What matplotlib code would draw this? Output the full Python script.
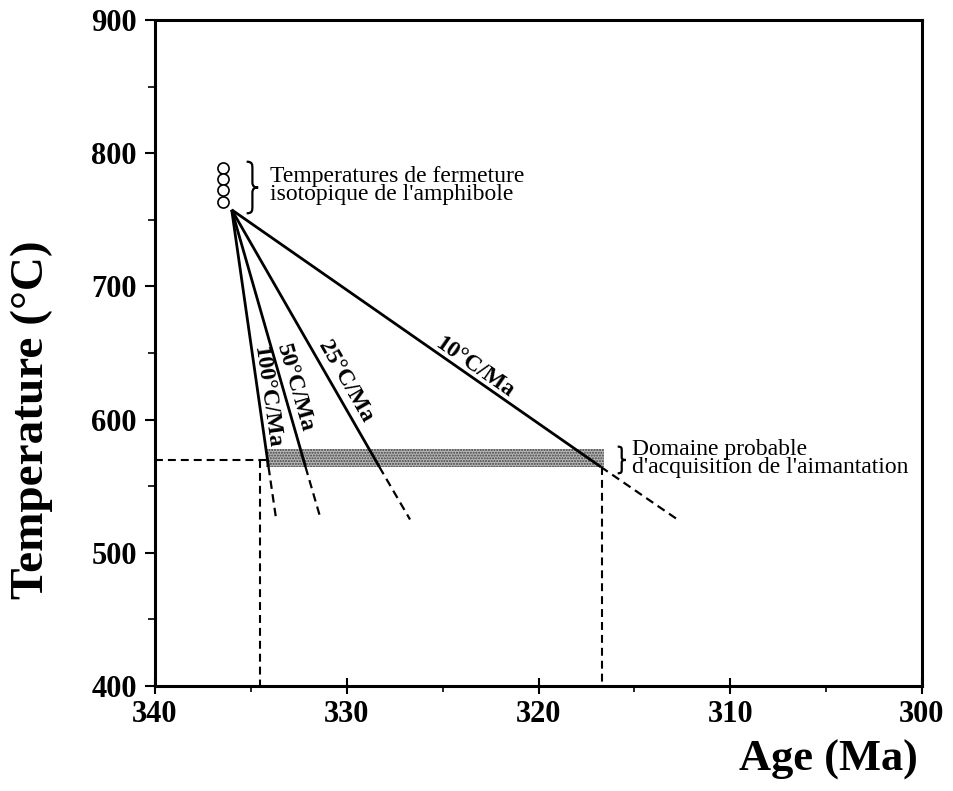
import numpy as np
import matplotlib
matplotlib.use("Agg")
import matplotlib.pyplot as plt
from matplotlib.path import Path
from matplotlib.patches import PathPatch

# ---------------- data ----------------
rate_labels = ["100°C/Ma", "50°C/Ma", "25°C/Ma", "10°C/Ma"]
start_age = 336.0          # Ma, apex of cooling paths
start_temp = 757.5         # °C
solid_end_temp = 564.5     # °C
dash_end_temp = 525.0      # °C
solid_end_age = [334.08, 332.15, 328.3, 316.75]
dash_end_age = [333.68, 331.35, 326.7, 312.75]

closure_age = [336.47, 336.47, 336.47, 336.47]
closure_temp = [788.8, 780.6, 772.5, 763.7]

band_age = [334.2, 316.6]
band_temp_low = 564.4
band_temp_high = 577.9
ref_temp = 570.0
ref_age_left = 334.5
ref_age_right = 316.7

xticks = [340, 330, 320, 310, 300]
yticks = [400, 500, 600, 700, 800, 900]

# label placement (centre of rotated labels)
label_age = [334.16, 332.7, 330.09, 323.36]
label_temp = [617.0, 623.7, 628.2, 639.5]

# ---------------- figure ----------------
W, H = 954, 791
fig = plt.figure(figsize=(W / 100, H / 100), dpi=100)
ax = fig.add_axes([155 / W, 105 / H, 767 / W, 666 / H])
ax.set_xlim(340, 300)
ax.set_ylim(400, 900)

serif = ["Liberation Serif", "DejaVu Serif"]

# band
ax.fill_between(band_age, band_temp_low, band_temp_high, facecolor="#b8b8b8",
                edgecolor="#404040", linewidth=0, hatch="......", zorder=1)

# dashed reference lines
dash = (0, (3.8, 2.4))
ax.plot([340, band_age[0]], [ref_temp, ref_temp], color="k", lw=1.5, ls=dash, zorder=2)
ax.plot([ref_age_left, ref_age_left], [ref_temp, 400], color="k", lw=1.5, ls=dash, zorder=2)
ax.plot([ref_age_right, ref_age_right], [solid_end_temp, 400], color="k", lw=1.5, ls=dash, zorder=2)

# cooling paths
for i in range(len(rate_labels)):
    ax.plot([start_age, solid_end_age[i]], [start_temp, solid_end_temp],
            color="k", lw=2.0, solid_capstyle="butt", zorder=3)
    ax.plot([solid_end_age[i], dash_end_age[i]], [solid_end_temp, dash_end_temp],
            color="k", lw=1.6, ls=dash, zorder=3)
    p1 = ax.transData.transform((start_age, start_temp))
    p2 = ax.transData.transform((solid_end_age[i], solid_end_temp))
    ang = np.degrees(np.arctan2(p2[1] - p1[1], p2[0] - p1[0]))
    ax.text(label_age[i], label_temp[i], rate_labels[i], rotation=ang,
            rotation_mode="anchor", ha="center", va="center",
            fontsize=17, fontweight="bold", family=serif, zorder=4)

# closure temperature circles
ax.plot(closure_age, closure_temp, ls="none", marker="o", ms=8,
        mfc="white", mec="k", mew=1.2, zorder=5, clip_on=False)


def brace(x_stem, x_tip, y_top, y_bot, hook):
    """Draw a '}'-shaped brace in data coordinates."""
    u = np.array([[0, 1], [0.5, 1], [0.5, 0.95], [0.5, 0.85],
                  [0.5, 0.6], [0.5, 0.52], [0.7, 0.5], [1, 0.5],
                  [0.7, 0.5], [0.5, 0.48], [0.5, 0.4],
                  [0.5, 0.15], [0.5, 0.05], [0.5, 0], [0, 0]], float)
    codes = [Path.MOVETO, Path.CURVE4, Path.CURVE4, Path.CURVE4,
             Path.LINETO, Path.CURVE4, Path.CURVE4, Path.CURVE4,
             Path.CURVE4, Path.CURVE4, Path.CURVE4,
             Path.LINETO, Path.CURVE4, Path.CURVE4, Path.CURVE4]
    x0 = x_stem + hook            # left edge (hook) in age units
    w = x0 - x_tip
    xs = x0 - u[:, 0] * w
    ys = y_bot + u[:, 1] * (y_top - y_bot)
    ax.add_patch(PathPatch(Path(np.column_stack([xs, ys]), codes),
                           fill=False, lw=1.6, ec="k", zorder=5))


brace(335.05, 334.62, 793.6, 754.9, 0.17)
brace(315.75, 315.45, 579.7, 559.7, 0.12)

# annotations (anchor = baseline of the last line)
ax.text(334.0, 764.9, "Temperatures de fermeture\nisotopique de l'amphibole",
        fontsize=17, family=serif, va="baseline", ha="left", linespacing=0.8)
ax.text(315.12, 559.9, "Domaine probable\nd'acquisition de l'aimantation",
        fontsize=17, family=serif, va="baseline", ha="left", linespacing=0.8)

# axes styling
for s in ax.spines.values():
    s.set_linewidth(2.2)
ax.set_xticks(xticks)
ax.set_yticks(yticks)
ax.set_xticks(np.arange(300, 341, 5), minor=True)
ax.set_yticks(np.arange(400, 901, 50), minor=True)
ax.tick_params(axis="x", which="major", direction="inout", length=12, width=1.5,
               pad=4, top=False)
ax.tick_params(axis="x", which="minor", direction="out", length=4, width=1.2,
               top=False)
ax.tick_params(axis="y", which="major", direction="out", length=7, width=1.5,
               pad=6, right=False)
ax.tick_params(axis="y", which="minor", direction="out", length=5, width=1.2,
               right=False)
for lab in ax.get_xticklabels() + ax.get_yticklabels():
    lab.set_fontfamily(serif)
    lab.set_fontweight("bold")
    lab.set_fontsize(22)

fig.text(32 / W, 1 - 420 / H, "Temperature (°C)", rotation=90, ha="center",
         va="center", fontsize=34, fontweight="bold", family=serif)
fig.text(828 / W, 1 - 760 / H, "Age (Ma)", ha="center", va="center",
         fontsize=32, fontweight="bold", family=serif)

fig.savefig("out.png", dpi=100, facecolor="white")
